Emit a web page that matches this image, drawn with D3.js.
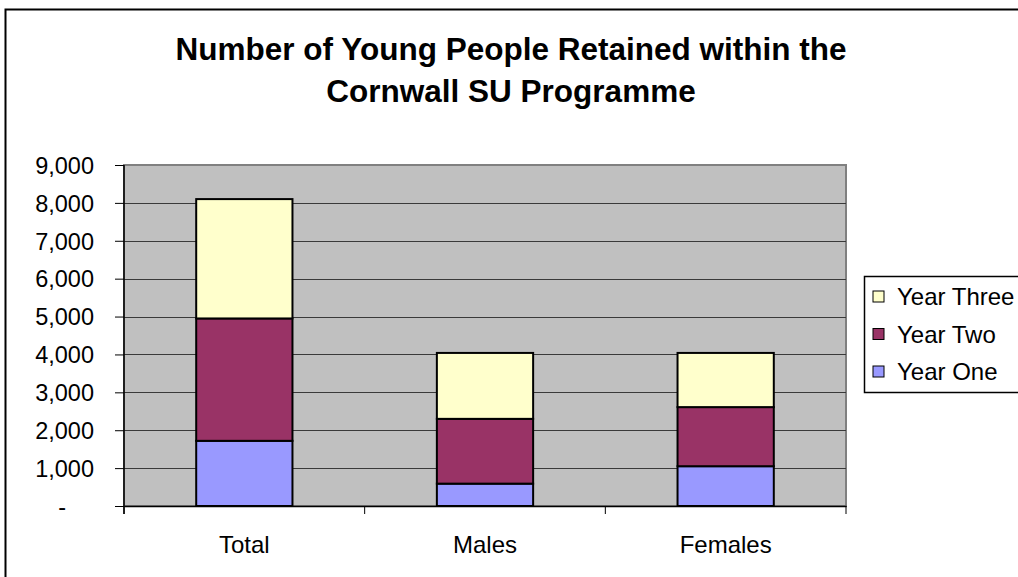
<!DOCTYPE html>
<html>
<head>
<meta charset="utf-8">
<script src="https://cdn.jsdelivr.net/npm/d3@7"></script>
<style>
  body { margin: 0; background: #fff; }
  text { font-family: "Liberation Sans", Arial, sans-serif; fill: #000; }
</style>
</head>
<body>
<div id="chart"></div>
<script>
let width = 1018;
let height = 577;

// data
let categories = ["Total", "Males", "Females"];
let seriesNames = ["Year One", "Year Two", "Year Three"];
let yearOne = [1720, 590, 1050];
let yearTwo = [3230, 1710, 1560];
let yearThree = [3150, 1740, 1430];
let yTicks = [0, 1000, 2000, 3000, 4000, 5000, 6000, 7000, 8000, 9000];
let colors = ["#9999FF", "#993366", "#FFFFCC"];

let plot = {left: 124, right: 846, top: 165, bottom: 506};

let svg = d3.select("#chart")
    .append("svg")
    .attr("width", width)
    .attr("height", height);

// outer chart frame (runs off the right/bottom edge)
svg.append("rect")
    .attr("x", 5.5).attr("y", 9.5)
    .attr("width", 1030).attr("height", 600)
    .attr("fill", "#fff")
    .attr("stroke", "#000")
    .attr("stroke-width", 2);

// title
let title = svg.append("text")
    .attr("text-anchor", "middle")
    .style("font-weight", "bold")
    .style("font-size", "31.5px");
title.append("tspan").attr("x", 511).attr("y", 60).text("Number of Young People Retained within the");
title.append("tspan").attr("x", 511).attr("y", 102).text("Cornwall SU Programme");

let x = d3.scaleBand()
    .domain(categories)
    .range([plot.left, plot.right])
    .paddingInner(0.6)
    .paddingOuter(0.3);

let y = d3.scaleLinear()
    .domain([0, 9000])
    .range([plot.bottom, plot.top]);

// plot background
svg.append("rect")
    .attr("x", plot.left).attr("y", plot.top)
    .attr("width", plot.right - plot.left)
    .attr("height", plot.bottom - plot.top)
    .attr("fill", "#C0C0C0")
    .attr("stroke", "#808080")
    .attr("stroke-width", 2);

// gridlines
svg.selectAll(".grid")
    .data(yTicks.filter(d => d > 0 && d < 9000))
    .enter()
    .append("line")
    .attr("x1", plot.left).attr("x2", plot.right)
    .attr("y1", d => Math.round(y(d)) + 0.5)
    .attr("y2", d => Math.round(y(d)) + 0.5)
    .attr("stroke", "#3a3a3a")
    .attr("stroke-width", 1);

// stack the three years
let rows = categories.map((c, i) => ({
    cat: c, "Year One": yearOne[i], "Year Two": yearTwo[i], "Year Three": yearThree[i]
}));
let stacked = d3.stack().keys(seriesNames)(rows);

svg.selectAll(".layer")
    .data(stacked)
    .enter()
    .append("g")
    .attr("fill", (d, i) => colors[i])
    .selectAll("rect")
    .data(d => d)
    .enter()
    .append("rect")
    .attr("x", d => x(d.data.cat))
    .attr("width", x.bandwidth())
    .attr("y", d => y(d[1]))
    .attr("height", d => y(d[0]) - y(d[1]))
    .attr("stroke", "#000")
    .attr("stroke-width", 2);

// y axis
let fmt = d3.format(",");
let yAxis = d3.axisLeft(y)
    .tickValues(yTicks)
    .tickSize(9)
    .tickPadding(21)
    .tickFormat(d => d === 0 ? "-" : fmt(d));
let gy = svg.append("g")
    .attr("transform", "translate(" + plot.left + ",0)")
    .call(yAxis);
gy.select(".domain").attr("stroke", "#000").attr("stroke-width", 1.5).attr("d", "M0," + plot.top + "V" + (plot.bottom + 8));
gy.selectAll(".tick line").attr("stroke", "#000");
gy.selectAll(".tick text")
    .style("font-size", "23.5px")
    .attr("font-family", null)
    .attr("dy", "0.35em")
    .attr("dx", d => d === 0 ? -28 : 0);

// x axis with ticks between categories
let xAxis = d3.axisBottom(x).tickSize(0).tickPadding(30);
let gx = svg.append("g")
    .attr("transform", "translate(0," + plot.bottom + ")")
    .call(xAxis);
gx.select(".domain").attr("stroke", "#000").attr("stroke-width", 1.5);
gx.selectAll(".tick text").style("font-size", "24px").attr("font-family", null);

let step = x.step();
let bounds = [plot.left, plot.left + step, plot.left + 2 * step, plot.right];
gx.selectAll(".sep")
    .data(bounds)
    .enter()
    .append("line")
    .attr("x1", d => d).attr("x2", d => d)
    .attr("y1", 0).attr("y2", 8)
    .attr("stroke", "#000");

// legend
let legend = svg.append("g").attr("transform", "translate(864,276)");
legend.append("rect")
    .attr("x", 0.5).attr("y", 0.5)
    .attr("width", 170).attr("height", 116)
    .attr("fill", "#fff")
    .attr("stroke", "#000")
    .attr("stroke-width", 1.5);

let legendOrder = [2, 1, 0];
let items = legend.selectAll(".item")
    .data(legendOrder)
    .enter()
    .append("g")
    .attr("transform", (d, i) => "translate(0," + (21 + i * 37.5) + ")");
items.append("rect")
    .attr("x", 9).attr("y", -6)
    .attr("width", 11).attr("height", 11)
    .attr("fill", d => colors[d])
    .attr("stroke", "#000")
    .attr("stroke-width", 1);
items.append("text")
    .attr("x", 33)
    .attr("dy", "0.35em")
    .style("font-size", "24px")
    .text(d => seriesNames[d]);
</script>
</body>
</html>
